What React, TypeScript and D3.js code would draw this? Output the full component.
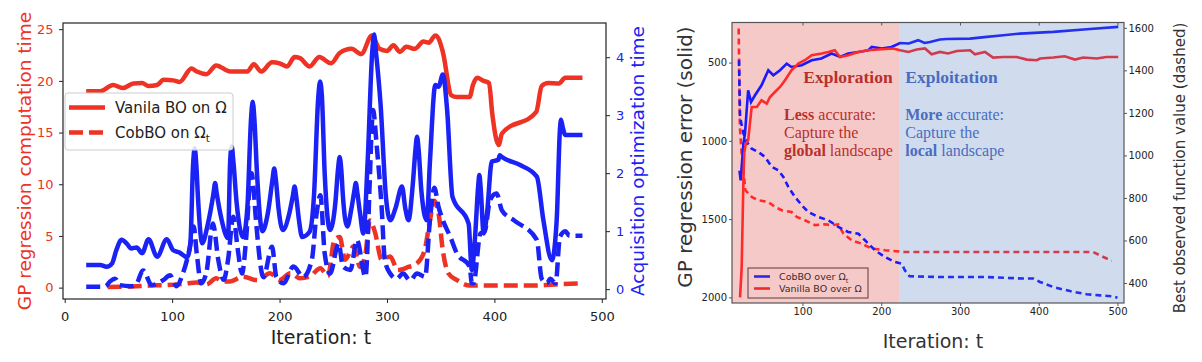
import React, { useEffect, useRef } from 'react';
import * as d3 from 'd3';

type Pt = [number, number];

// ---- left panel: time per iteration ----
// GP regression computation time (left axis)
const vanilaGpTime: Pt[] = [
  [20, 19.0], [33, 19.0], [45, 19.6], [54, 19.3], [64, 19.75], [72, 19.8], [78, 19.5], [86, 19.6],
  [92, 20.1], [101, 20.05], [107, 19.9], [118, 21.2], [123, 20.9], [132, 20.65], [141, 21.5],
  [154, 20.9], [163, 20.9], [170, 20.9], [176, 21.6], [183, 20.9], [193, 21.8], [200, 21.7],
  [207, 21.4], [214, 22.3], [219, 22.2], [228, 21.4], [237, 22.3], [248, 21.7], [256, 22.7],
  [267, 23.1], [276, 22.6], [286, 24.4], [293, 23.1], [300, 22.9], [306, 23.45], [312, 22.8],
  [318, 23.3], [326, 23.1], [334, 23.8], [339, 23.7], [345, 24.4], [348, 24.1], [352, 22.8],
  [360, 18.6], [365, 18.45], [377, 18.45], [380, 19.6], [384, 20.3], [390, 20.0], [395, 19.8],
  [398, 16.85], [404, 13.8], [407, 14.9], [439, 17.0], [444, 19.5], [450, 19.8], [460, 19.75],
  [466, 20.3], [482, 20.3],
];
const cobboGpTime: Pt[] = [
  [40, 0.05], [60, 0.1], [80, 0.2], [95, 0.25], [110, 0.35], [123, 0.5], [132, 0.3], [141, 0.9],
  [147, 0.6], [154, 0.6], [166, 1.06], [180, 0.7], [191, 1.4], [200, 0.74], [210, 1.4], [219, 0.9],
  [228, 1.06], [238, 1.87], [245, 1.1], [251, 4.6], [256, 4.9], [261, 2.7], [269, 4.0], [275, 2.0],
  [280, 3.3], [284, 6.5], [289, 5.3], [295, 2.7], [303, 3.0], [310, 1.7], [320, 2.0], [328, 2.36],
  [335, 3.6], [340, 6.5], [344, 8.4], [348, 7.2], [352, 3.6], [357, 1.4], [365, 0.74], [377, 0.2],
  [434, 0.2], [449, 0.25], [464, 0.35], [482, 0.4],
];
// acquisition optimization time (right axis)
const vanilaAcqTime: Pt[] = [
  [20, 0.415], [33, 0.415], [39, 0.385], [44, 0.44], [48, 0.67], [53, 0.85], [58, 0.78], [62, 0.7],
  [67, 0.72], [72, 0.62], [78, 0.86], [86, 0.56], [95, 0.86], [101, 0.67], [107, 0.63], [114, 0.55],
  [117, 0.8], [119.5, 2.15], [121, 2.43], [122.5, 2.15], [124, 1.6], [128, 0.79], [133, 1.1],
  [138.5, 1.65], [140, 1.83], [141.5, 1.65], [146, 1.2], [152, 0.88], [154, 2.2], [155.5, 2.46],
  [157, 2.2], [160, 1.5], [166, 0.9], [170, 1.4], [173.5, 2.95], [175, 3.23], [176.5, 2.95],
  [179, 2.0], [184, 1.0], [189, 1.3], [193.5, 1.9], [195, 2.08], [196.5, 1.9], [199, 1.4],
  [203, 1.02], [209, 1.3], [212.5, 1.62], [214, 1.77], [215.5, 1.6], [218, 1.2], [221, 0.9],
  [228, 0.99], [232, 1.6], [236, 3.3], [237.7, 3.58], [239.5, 3.3], [242, 2.0], [247, 1.02],
  [252, 1.5], [254.5, 2.08], [256, 2.28], [257.5, 2.05], [259, 1.6], [263, 1.08], [267, 1.4],
  [269.5, 1.68], [271, 1.83], [272.5, 1.65], [275, 1.3], [278, 0.96], [282, 2.2], [286.3, 4.1],
  [288, 4.39], [289.7, 4.1], [294, 3.2], [299, 1.6], [303, 1.19], [308, 1.4], [314, 1.77], [317, 1.4],
  [320, 1.19], [324, 1.8], [326.5, 2.4], [328, 2.63], [329.5, 2.4], [332, 1.7], [337, 1.19], [340, 2.2],
  [345, 3.52], [348, 3.49], [352, 3.7], [356, 3.09], [361, 1.59], [376, 1.13], [379, 0.33], [382, 0.9],
  [385, 1.8], [386, 1.97], [387.2, 1.75], [390, 0.96], [393, 1.28], [397.6, 2.2], [403.7, 2.23],
  [405, 2.31], [407, 2.28], [424, 2.14], [439.5, 1.94], [445.6, 1.19], [453.5, 0.5], [458, 1.19],
  [461, 2.75], [462, 2.92], [463.5, 2.8], [466, 2.66], [482, 2.66],
];
const cobboAcqTime: Pt[] = [
  [20, 0.04], [33, 0.04], [38, 0.05], [42, 0.13], [47, 0.18], [51, 0.07], [62, 0.05], [66, 0.07],
  [73, 0.32], [81, 0.07], [92, 0.16], [98, 0.24], [104, 0.05], [110, 0.27], [116.6, 0.73], [120, 1.08],
  [123, 0.6], [127, 0.1], [132, 0.3], [138, 1.13], [143, 0.5], [148, 0.16], [152, 0.5], [157, 1.25],
  [161, 0.7], [165, 0.27], [169, 0.9], [172.5, 1.85], [174, 2.0], [175.5, 1.8], [178, 1.2], [185, 0.21],
  [193, 0.73], [197, 0.21], [203.5, 0.1], [213, 0.39], [222, 0.21], [230, 0.5], [234.5, 1.31],
  [238, 1.62], [242, 0.62], [247, 0.27], [255, 0.79], [259, 0.39], [266, 0.33], [272, 0.85], [280, 0.21],
  [284, 1.88], [285.6, 2.7], [287, 3.09], [290.5, 2.46], [295, 1.42], [298, 0.5], [303, 0.27],
  [309, 0.18], [315, 0.27], [321.5, 0.15], [328, 0.27], [335.5, 0.21], [340, 1.19], [344, 1.75],
  [348, 1.42], [352, 1.19], [359, 0.9], [365, 0.62], [377, 0.39], [379, 0.1], [380.5, 0.1], [387, 0.96],
  [391, 1.0], [396, 1.54], [402, 1.65], [407, 1.36], [418, 1.19], [439.5, 0.85], [444, 0.18], [449, 0.1],
  [452, 0.18], [457, 0.1], [461, 0.9], [466, 1.0], [470, 0.92], [482, 0.92],
];

// ---- right panel: regression error (solid) and best value (dashed) ----
const cobboError: Pt[] = [
  [20, 1190], [21.5, 1252], [25, 1018], [27, 954], [31, 677], [34.7, 752], [39.7, 709], [48, 645],
  [56.6, 549], [63, 581], [71.5, 549], [80, 507], [86, 528], [99, 517], [111.7, 485], [124, 474],
  [137, 442], [147.7, 464], [158, 442], [171, 432], [183.6, 421], [188, 400], [200.6, 410], [213, 400],
  [224, 375], [235, 378], [247, 357], [255, 375], [262, 368], [274.6, 353], [283, 349], [312.8, 347],
  [334, 336], [355, 325], [376, 315], [418.5, 304], [461, 287], [501, 272],
];
const vanillaError: Pt[] = [
  [20.7, 2000], [22.8, 1807], [25, 1252], [26, 1080], [28, 1018], [31, 997], [35.5, 784], [42, 784],
  [48, 741], [54.6, 762], [58.8, 720], [65, 688], [71.5, 656], [77.8, 613], [86, 549], [94.7, 507],
  [103, 485], [111.7, 453], [124.4, 442], [132.8, 432], [141, 421], [147.7, 464], [158, 453],
  [171, 432], [183.6, 421], [200.6, 415], [215, 410], [224, 421], [234.5, 432], [245, 417],
  [255.6, 410], [264, 447], [274.6, 432], [285, 442], [296, 426], [312.8, 421], [319, 447],
  [331.8, 432], [342, 468], [355, 464], [372, 464], [385, 481], [397.5, 485], [401.7, 474],
  [418.5, 468], [433, 460], [446, 481], [456.6, 468], [473.6, 474], [486, 464], [501, 464],
];
const cobboBest: Pt[] = [
  [19.4, 1448], [20.7, 1181], [25, 1103], [29, 1064], [35.5, 1032], [44, 1016], [52.4, 993], [61, 946],
  [69.3, 930], [75.7, 899], [82, 852], [90.5, 805], [99, 766], [107.4, 734], [120, 711], [132.8, 695],
  [145.5, 664], [158, 640], [171, 632], [179.4, 601], [192, 554], [204.8, 522], [217.5, 499],
  [226, 491], [230, 460], [236, 432], [274.6, 428], [334, 428], [380, 421], [393, 421], [401.6, 405],
  [418.5, 381], [439.7, 362], [461, 347], [478, 342], [494.7, 337], [500, 331],
];
const vanillaBest: Pt[] = [
  [19, 1597], [20.5, 1134], [22.8, 1009], [25, 930], [27.5, 836], [35.5, 805], [44, 789], [56.6, 781],
  [65, 758], [73.6, 742], [86, 734], [92.7, 711], [103, 695], [116, 672], [128.6, 676], [137, 672],
  [145.5, 676], [152, 632], [162.5, 601], [175, 585], [188, 562], [204.8, 554], [230, 546], [469, 546],
  [477.8, 530], [492.7, 504],
];

const iterTicks = [0, 100, 200, 300, 400, 500];
const gpTimeTicks = [0, 5, 10, 15, 20, 25];
const acqTimeTicks = [0, 1, 2, 3, 4];
const iterTicksRight = [100, 200, 300, 400, 500];
const errorTicks = [500, 1000, 1500, 2000];
const bestTicks = [400, 600, 800, 1000, 1200, 1400, 1600];
const phaseSplit = 223; // exploration -> exploitation

const RED = '#ee3224';
const BLUE = '#1a22f5';
const SANS = '"DejaVu Sans", sans-serif';
const SERIF = '"Liberation Serif", "Times New Roman", serif';
const plain = (d: any) => String(d);

function styleAxis(g: any, textColor: string, size: number, lineColor: string) {
  g.select('.domain').remove();
  g.attr('font-family', SANS).attr('font-size', size);
  g.selectAll('.tick line').attr('stroke', lineColor);
  g.selectAll('.tick text').attr('fill', textColor);
}

function drawLeft(svg: any) {
  const x = d3.scaleLinear().domain([-1.6, 503.9]).range([63, 606]);
  const yTime = d3.scaleLinear().domain([-1.1, 25.6]).range([299, 23]);
  const yAcq = d3.scaleLinear().domain([-0.17, 4.59]).range([299, 23]);

  svg.append('clipPath').attr('id', 'clipL').append('rect')
    .attr('x', 63).attr('y', 23).attr('width', 543).attr('height', 276);

  const lineT = d3.line<Pt>().x(d => x(d[0])).y(d => yTime(d[1])).curve(d3.curveMonotoneX);
  const lineA = d3.line<Pt>().x(d => x(d[0])).y(d => yAcq(d[1])).curve(d3.curveMonotoneX);

  const g = svg.append('g').attr('clip-path', 'url(#clipL)');
  const series: [Pt[], any, string, string | null][] = [
    [vanilaGpTime, lineT, RED, null],
    [cobboGpTime, lineT, RED, '14,6'],
    [vanilaAcqTime, lineA, BLUE, null],
    [cobboAcqTime, lineA, BLUE, '14,6'],
  ];
  series.forEach(([data, gen, color, dash]) => {
    g.append('path')
      .datum(data)
      .attr('d', gen)
      .attr('fill', 'none')
      .attr('stroke', color)
      .attr('stroke-width', 4.5)
      .attr('stroke-linejoin', 'round')
      .attr('stroke-dasharray', dash);
  });

  svg.append('rect').attr('x', 63).attr('y', 23).attr('width', 543).attr('height', 276)
    .attr('fill', 'none').attr('stroke', '#222').attr('stroke-width', 1.2);

  svg.append('g').attr('transform', 'translate(0,299)')
    .call(d3.axisBottom(x).tickValues(iterTicks).tickFormat(plain).tickSize(4).tickPadding(8.5).tickSizeOuter(0))
    .call((a: any) => styleAxis(a, '#222', 13, '#222'));
  svg.append('g').attr('transform', 'translate(63,0)')
    .call(d3.axisLeft(yTime).tickValues(gpTimeTicks).tickFormat(plain).tickSize(4).tickPadding(5.5).tickSizeOuter(0))
    .call((a: any) => styleAxis(a, RED, 13, '#222'));
  svg.append('g').attr('transform', 'translate(606,0)')
    .call(d3.axisRight(yAcq).tickValues(acqTimeTicks).tickFormat(plain).tickSize(4).tickPadding(6).tickSizeOuter(0))
    .call((a: any) => styleAxis(a, BLUE, 13, '#222'));

  svg.append('text').attr('transform', 'translate(24,161) rotate(-90)')
    .attr('text-anchor', 'middle').attr('dominant-baseline', 'central')
    .style('font-family', SANS).style('font-size', '18.5px').attr('fill', RED)
    .text('GP regression computation time');
  svg.append('text').attr('transform', 'translate(637,161) rotate(-90)')
    .attr('text-anchor', 'middle').attr('dominant-baseline', 'central')
    .style('font-family', SANS).style('font-size', '18.5px').attr('fill', BLUE)
    .text('Acquisition optimization time');
  svg.append('text').attr('x', 321).attr('y', 344).attr('text-anchor', 'middle')
    .style('font-family', SANS).style('font-size', '19px').attr('fill', '#222')
    .text('Iteration: t');

  // legend
  const lg = svg.append('g');
  lg.append('rect').attr('x', 65).attr('y', 93).attr('width', 168).attr('height', 57).attr('rx', 3)
    .attr('fill', '#fff').attr('fill-opacity', 0.85).attr('stroke', '#ccc');
  lg.append('line').attr('x1', 69).attr('x2', 105).attr('y1', 107.5).attr('y2', 107.5)
    .attr('stroke', RED).attr('stroke-width', 4.5);
  lg.append('line').attr('x1', 69).attr('x2', 105).attr('y1', 132.5).attr('y2', 132.5)
    .attr('stroke', RED).attr('stroke-width', 4.5).attr('stroke-dasharray', '14,6');
  lg.append('text').attr('x', 115).attr('y', 113)
    .style('font-family', SANS).style('font-size', '15px').attr('fill', '#222')
    .text('Vanila BO on Ω');
  const t2 = lg.append('text').attr('x', 115).attr('y', 138)
    .style('font-family', SANS).style('font-size', '15px').attr('fill', '#222');
  t2.append('tspan').text('CobBO on Ω');
  t2.append('tspan').attr('dy', 4).style('font-size', '10.5px').text('t');
}

function drawRight(svg: any) {
  const x = d3.scaleLinear().domain([10.5, 508.3]).range([732, 1124]);
  const yErr = d3.scaleLinear().domain([244, 2036]).range([22.5, 303]);
  const yBest = d3.scaleLinear().domain([306, 1625]).range([303, 22.5]);
  const top = 22.5, bottom = 303;

  // exploration background (behind the lines)
  svg.append('rect').attr('x', x(10.5)).attr('y', top)
    .attr('width', x(phaseSplit) - x(10.5)).attr('height', bottom - top)
    .attr('fill', '#f6c9c9');

  svg.append('clipPath').attr('id', 'clipR').append('rect')
    .attr('x', 732).attr('y', top).attr('width', 392).attr('height', bottom - top);
  const g = svg.append('g').attr('clip-path', 'url(#clipR)');

  const lineE = d3.line<Pt>().x(d => x(d[0])).y(d => yErr(d[1]));
  const lineB = d3.line<Pt>().x(d => x(d[0])).y(d => yBest(d[1]));
  const series: [Pt[], any, string, string | null][] = [
    [vanillaBest, lineB, '#ff2a2a', '6,4'],
    [cobboBest, lineB, '#1a1aff', '6,4'],
    [cobboError, lineE, '#1a1aff', null],
    [vanillaError, lineE, '#ff2a2a', null],
  ];
  series.forEach(([data, gen, color, dash]) => {
    g.append('path')
      .datum(data)
      .attr('d', gen)
      .attr('fill', 'none')
      .attr('stroke', color)
      .attr('stroke-width', 2.6)
      .attr('stroke-dasharray', dash);
  });

  // exploitation overlay (tints the lines beneath)
  svg.append('rect').attr('x', x(phaseSplit)).attr('y', top)
    .attr('width', 1124 - x(phaseSplit)).attr('height', bottom - top)
    .attr('fill', '#4373bb').attr('fill-opacity', 0.25);

  svg.append('rect').attr('x', 732).attr('y', top).attr('width', 392).attr('height', bottom - top)
    .attr('fill', 'none').attr('stroke', '#555').attr('stroke-width', 1.2);

  svg.append('g').attr('transform', `translate(0,${bottom})`)
    .call(d3.axisBottom(x).tickValues(iterTicksRight).tickFormat(plain).tickSize(3).tickPadding(1.5).tickSizeOuter(0))
    .call((a: any) => styleAxis(a, '#222', 10, '#555'));
  svg.append('g').attr('transform', `translate(0,${top})`)
    .call(d3.axisTop(x).tickValues(iterTicksRight).tickSize(-3).tickFormat(() => '').tickSizeOuter(0))
    .call((a: any) => styleAxis(a, '#222', 10, '#555'));
  svg.append('g').attr('transform', 'translate(732,0)')
    .call(d3.axisLeft(yErr).tickValues(errorTicks).tickFormat(plain).tickSize(3).tickPadding(2).tickSizeOuter(0))
    .call((a: any) => styleAxis(a, '#222', 10, '#555'));
  svg.append('g').attr('transform', 'translate(1124,0)')
    .call(d3.axisRight(yBest).tickValues(bestTicks).tickFormat(plain).tickSize(3).tickPadding(1.5).tickSizeOuter(0))
    .call((a: any) => styleAxis(a, '#222', 10, '#555'));

  svg.append('text').attr('transform', 'translate(685,157) rotate(-90)')
    .attr('text-anchor', 'middle').attr('dominant-baseline', 'central')
    .style('font-family', SANS).style('font-size', '20px').attr('fill', '#333')
    .text('GP regression error (solid)');
  svg.append('text').attr('transform', 'translate(1180,168) rotate(-90)')
    .attr('text-anchor', 'middle').attr('dominant-baseline', 'central')
    .style('font-family', SANS).style('font-size', '15px').attr('fill', '#333')
    .text('Best observed function value (dashed)');
  svg.append('text').attr('x', 933).attr('y', 348).attr('text-anchor', 'middle')
    .style('font-family', SANS).style('font-size', '19px').attr('fill', '#333')
    .text('Iteration: t');

  // legend
  const lg = svg.append('g');
  lg.append('rect').attr('x', 748).attr('y', 268).attr('width', 120).attr('height', 30)
    .attr('fill', 'none').attr('stroke', '#5a3a3a').attr('stroke-width', 1);
  lg.append('line').attr('x1', 754).attr('x2', 770).attr('y1', 276.5).attr('y2', 276.5)
    .attr('stroke', '#2a2ae6').attr('stroke-width', 2.6);
  lg.append('line').attr('x1', 754).attr('x2', 770).attr('y1', 288.5).attr('y2', 288.5)
    .attr('stroke', '#f02a2a').attr('stroke-width', 2.6);
  const e1 = lg.append('text').attr('x', 779).attr('y', 280)
    .style('font-family', SANS).style('font-size', '9.5px').attr('fill', '#3a2a2a');
  e1.append('tspan').text('CobBO over Ω');
  e1.append('tspan').attr('dy', 2.5).style('font-size', '6.5px').text('t');
  lg.append('text').attr('x', 779).attr('y', 292)
    .style('font-family', SANS).style('font-size', '9.5px').attr('fill', '#3a2a2a')
    .text('Vanilla BO over Ω');

  // phase annotations
  const redText = '#b8302c';
  const blueText = '#4a6cc0';
  const ann = (t: number, v: number, color: string, parts: [string, boolean][], size: number) => {
    const el = svg.append('text').attr('x', x(t)).attr('y', yErr(v))
      .style('font-family', SERIF).style('font-size', `${size}px`).attr('fill', color);
    parts.forEach(([s, bold]) => el.append('tspan').attr('font-weight', bold ? 'bold' : 'normal').text(s));
  };
  ann(101, 631, redText, [['Exploration', true]], 17.5);
  ann(230.5, 631, blueText, [['Exploitation', true]], 17.5);
  ann(76.6, 867, redText, [['Less', true], [' accurate:', false]], 16);
  ann(76.6, 984, redText, [['Capture the', false]], 16);
  ann(76.6, 1097, redText, [['global', true], [' landscape', false]], 16);
  ann(230.5, 867, blueText, [['More', true], [' accurate:', false]], 16);
  ann(230.5, 984, blueText, [['Capture the', false]], 16);
  ann(230.5, 1097, blueText, [['local', true], [' landscape', false]], 16);
}

export default function App() {
  const ref = useRef<SVGSVGElement>(null);

  useEffect(() => {
    const svg = d3.select(ref.current);
    svg.selectAll('*').remove();
    drawLeft(svg);
    drawRight(svg);
  }, []);

  return (
    <div style={{ position: 'absolute', left: 0, top: 0 }}>
      <svg ref={ref} width={1202} height={362} style={{ display: 'block', background: '#fff' }} />
    </div>
  );
}
